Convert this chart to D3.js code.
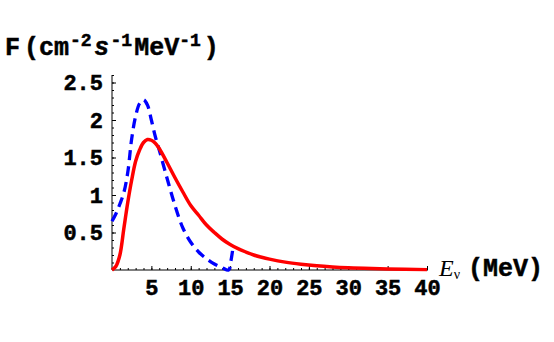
<!DOCTYPE html>
<html>
<head>
<meta charset="utf-8">
<script src="https://d3js.org/d3.v7.min.js"></script>
<style>
body { margin: 0; background: #fff; }
svg { display: block; }
text { font-family: "Liberation Mono", "Courier New", monospace; font-weight: bold; }
</style>
</head>
<body>
<svg></svg>
<script>

var width = 554;
var height = 342;

// Red solid curve (energy in MeV, flux)
var redE = [0, 0.5, 1, 1.5, 2, 2.5, 3, 3.5, 4, 4.5, 5, 5.5, 6, 7, 8, 9, 10, 11, 12, 13, 14, 15, 16, 17, 18, 19, 20, 22, 24, 26, 28, 30, 32, 35, 40];
var redF = [0, 0.05, 0.2, 0.55, 0.9, 1.2, 1.45, 1.6, 1.7, 1.74, 1.73, 1.69, 1.62, 1.43, 1.23, 1.04, 0.86, 0.73, 0.6, 0.5, 0.41, 0.34, 0.285, 0.24, 0.2, 0.17, 0.145, 0.105, 0.077, 0.056, 0.041, 0.03, 0.022, 0.013, 0.005];

// Blue dashed curve
var blueE = [0, 0.5, 1, 1.5, 2, 2.5, 3, 3.5, 4, 4.5, 5, 5.5, 6, 7, 8, 9, 10, 11, 12, 13, 14, 14.8, 15.1, 15.4];
var blueF = [0.65, 0.75, 0.88, 1.03, 1.3, 1.75, 2.05, 2.22, 2.27, 2.2, 2.0, 1.78, 1.6, 1.22, 0.86, 0.56, 0.37, 0.24, 0.15, 0.08, 0.03, 0.0, 0.12, 0.33];

var xTicks = [5, 10, 15, 20, 25, 30, 35, 40];
var yTicks = [0.5, 1, 1.5, 2, 2.5];

var x = d3.scaleLinear().domain([0, 40]).range([112, 427]);
var y = d3.scaleLinear().domain([0, 2.5]).range([270, 82.5]);

var svg = d3.select("svg").attr("width", width).attr("height", height);

// minor ticks
svg.append("g")
  .attr("transform", "translate(0,270)")
  .call(d3.axisBottom(x).tickValues(d3.range(1, 41)).tickSize(-2).tickFormat(""))
  .call(function (g) { g.select(".domain").remove(); });
svg.append("g")
  .attr("transform", "translate(112,0)")
  .call(d3.axisLeft(y).tickValues(d3.range(1, 27).map(function (d) { return d / 10; })).tickSize(-2).tickFormat(""))
  .call(function (g) { g.select(".domain").remove(); });

// x axis
var xAxis = svg.append("g")
  .attr("transform", "translate(0,270)")
  .call(d3.axisBottom(x).tickValues(xTicks).tickSizeInner(-4).tickSizeOuter(0).tickPadding(9));
xAxis.select(".domain").attr("d", "M112,0H428");

// y axis
var yAxis = svg.append("g")
  .attr("transform", "translate(112,0)")
  .call(d3.axisLeft(y).tickValues(yTicks).tickFormat(function (d) { return String(d); })
    .tickSizeInner(-4).tickSizeOuter(0).tickPadding(9));
yAxis.select(".domain").attr("d", "M0,270V75");

svg.selectAll(".tick text")
  .attr("font-size", 22)
  .attr("font-family", "Liberation Mono")
  .attr("font-weight", "bold")
  .attr("fill", "#000")
  .attr("stroke", "#000")
  .attr("stroke-width", 0.5);
svg.selectAll(".domain, .tick line").attr("stroke", "#000");

var line = d3.line().x(function (d) { return x(d[0]); }).y(function (d) { return y(d[1]); }).curve(d3.curveCatmullRom);

svg.append("path")
  .datum(d3.zip(blueE, blueF))
  .attr("d", line)
  .attr("fill", "none")
  .attr("stroke", "#0000ff")
  .attr("stroke-width", 3.3)
  .attr("stroke-dasharray", "10,6");

svg.append("path")
  .datum(d3.zip(redE, redF))
  .attr("d", line)
  .attr("fill", "none")
  .attr("stroke", "#ff0000")
  .attr("stroke-width", 3.5);

// y label
var title = svg.append("text").attr("x", 5).attr("y", 55).attr("font-size", 25)
  .attr("stroke", "#000").attr("stroke-width", 0.5);
title.append("tspan").text("F");
title.append("tspan").attr("dx", 4).text("(cm");
title.append("tspan").attr("font-size", 18).attr("dx", 1).attr("dy", -9).text("-2");
title.append("tspan").attr("font-style", "italic").attr("font-family", "Liberation Sans").attr("font-size", 25)
  .attr("dx", 3).attr("dy", 9).text("s");
title.append("tspan").attr("font-size", 18).attr("dx", 2).attr("dy", -9).text("-1");
title.append("tspan").attr("dx", 2).attr("dy", 9).text("MeV");
title.append("tspan").attr("font-size", 18).attr("dy", -9).text("-1");
title.append("tspan").attr("dx", 3).attr("dy", 9).text(")");

// x label
var xl = svg.append("text").attr("x", 439).attr("y", 276).attr("font-size", 25);
xl.append("tspan").attr("font-family", "Liberation Serif").attr("font-style", "italic").attr("font-weight", "normal")
  .attr("font-size", 24).text("E");
xl.append("tspan").attr("font-family", "Liberation Serif").attr("font-weight", "normal").attr("font-size", 14)
  .attr("dy", 3).text("\u03bd");
xl.append("tspan").attr("dy", -3).attr("dx", 8).attr("stroke", "#000").attr("stroke-width", 0.5).text("(MeV)");

</script>
</body>
</html>
